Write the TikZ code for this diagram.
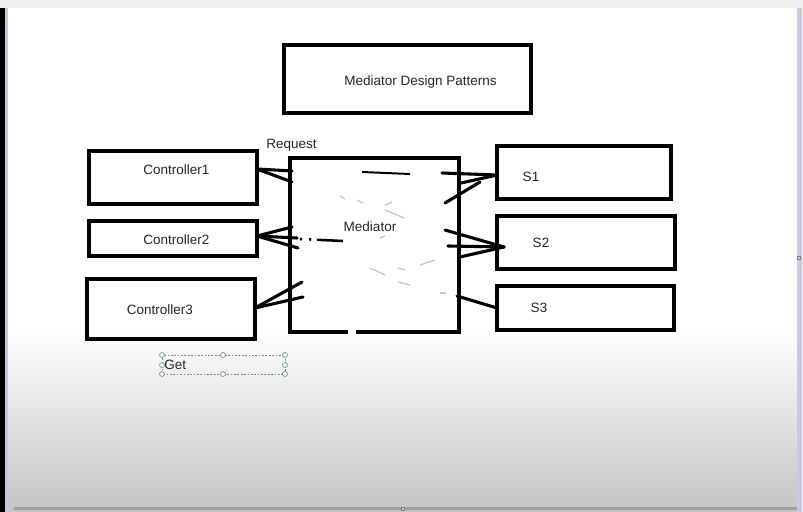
\documentclass[tikz,border=0pt]{standalone}
\usepackage{fontspec}
\setmainfont{Liberation Sans}
\usepackage{xcolor}
\usetikzlibrary{fit}
\usetikzlibrary{positioning}

\definecolor{lienzo}{HTML}{C4C4C6}
\definecolor{marco}{HTML}{C6CBE0}
\definecolor{seleccion}{HTML}{6E8E90}

\begin{document}
\begin{tikzpicture}[
    x=0.025cm, y=-0.025cm,
    caja/.style={draw=black, line width=2.2pt, inner sep=0pt},
    trazo/.style={draw=black, line width=2.2pt, line cap=round},
    tenue/.style={draw=gray!45, line width=0.9pt},
    asa/.style={circle, draw=seleccion, fill=white, line width=0.5pt, inner sep=0pt, minimum size=3.5pt},
    every node/.style={font=\fontsize{9.6}{11}\selectfont, text=black!85}
]
\useasboundingbox (0,0) rectangle (803,512);

% Fondo (ventana)
\fill[gray!12] (0,0) rectangle (803,512);
\fill[black] (0,8) rectangle (5,512);
\fill[marco] (5,8) rectangle (8,512);
\fill[white] (8,8) rectangle (797,330);
\shade[top color=white, bottom color=lienzo] (8,330) rectangle (797,512);
\fill[marco] (797,8) rectangle (802,512);
\fill[gray!75] (14,507) rectangle (797,510);
\node[draw=gray, fill=gray!40, inner sep=0pt, minimum size=2.5pt] (asaD) at (799,258) {};
\node[draw=gray, fill=gray!40, inner sep=0pt, minimum size=2.5pt] (asaB) at (403,509) {};

% Cajas
\node[caja, line width=2.8pt, fit={(284,45) (531,113)}] (titulo) {};
\node[caja, fit={(89,151) (257,204)}] (c1) {};
\node[caja, fit={(89,221) (257,256)}] (c2) {};
\node[caja, fit={(87,279) (255,339)}] (c3) {};
\node[caja, fit={(290,158) (459,332)}] (med) {};
\node[caja, fit={(497,146) (671,199)}] (s1) {};
\node[caja, fit={(497,216) (675,269)}] (s2) {};
\node[caja, fit={(497,286) (674,330)}] (s3) {};
\fill[white] (348,328) rectangle (356,336);

% Textos
\node (tTitulo) at (420.5,82) {Mediator Design Patterns};
\node (tc1) at (176.5,170) {Controller1};
\node (tc2) at (176.5,240) {Controller2};
\node (tc3) at (160,310) {Controller3};
\node (tmed) at (370,227) {Mediator};
\node (ts1) at (531,177) {S1};
\node (ts2) at (541,243) {S2};
\node (ts3) at (539,308) {S3};
\node (treq) at (291.5,145) {Request};

% Puntas a mano
\coordinate (p1) at (257,169);
\coordinate (p2) at (257,236);
\coordinate (p3) at (255,308);
\coordinate (q1) at (497,175);
\coordinate (q2) at (504,247);
\coordinate (q3) at (497,308);

\draw[trazo] (p1) -- (292,171);
\draw[trazo] (p1) -- (292,182);
\draw[trazo] (p2) -- (292,227);
\draw[trazo] (p2) -- (297,238);
\draw[trazo] (p2) -- (298,248);
\draw[trazo] (p3) -- (302,282);
\draw[trazo] (p3) -- (303,297);

\draw[trazo] (442,173) -- (q1);
\draw[trazo] (461,183) -- (q1);
\draw[trazo] (445,203) -- (480,182);
\draw[trazo] (445,230) -- (q2);
\draw[trazo] (448,246) -- (q2);
\draw[trazo] (460,257) -- (q2);
\draw[trazo] (457,296) -- (q3);

% Trazos sueltos dentro
\draw[draw=black, line width=1.8pt, dash pattern=on 1.5pt off 5pt on 1.5pt off 4pt on 18pt off 0pt] (300,239) -- (343,241);
\draw[draw=black, line width=1.4pt] (362,172) -- (410,174);
\foreach \a/\b/\c/\d in {340/196/345/199, 357/200/363/203, 385/205/392/202, 385/210/404/218,
    380/238/385/236, 370/268/385/275, 398/268/405/270, 420/265/435/260, 398/282/410/285, 440/293/446/293}
    \draw[tenue] (\a,\b) -- (\c,\d);

% Cuadro de texto seleccionado
\draw[seleccion, line width=0.6pt, dash pattern=on 1.2pt off 1.2pt] (162,355) rectangle (285,374);
\foreach \x/\y in {162/355, 223/355, 285/355, 162/365, 285/365, 162/374, 223/374, 285/374}
    \node[asa] at (\x,\y) {};
\node[anchor=west, inner sep=0pt] (tget) at (164,365) {Get};
\end{tikzpicture}
\end{document}
